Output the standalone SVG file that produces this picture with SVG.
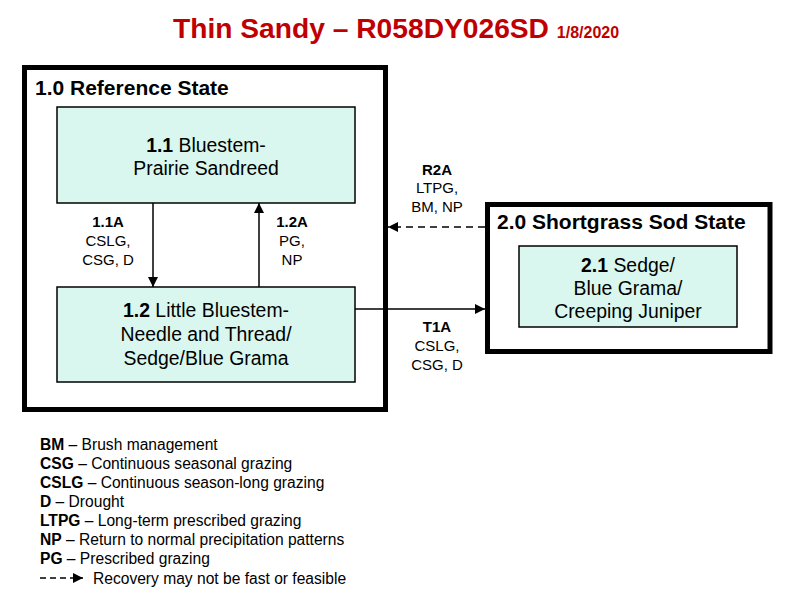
<svg xmlns="http://www.w3.org/2000/svg" width="800" height="605" viewBox="0 0 800 605">
<defs>
<style>
text{font-family:"Liberation Sans",Arial,sans-serif;fill:#000}
.title{font-size:28.2px;font-weight:bold;fill:#c00000}
.date{font-size:16px;font-weight:bold;fill:#c00000}
.state{fill:#fff;stroke:#000;stroke-width:5}
.stitle{font-size:21px;font-weight:bold}
.comm{fill:#d9f7ef;stroke:#000;stroke-width:1.5}
.ct{font-size:19.4px;text-anchor:middle}
.lab{font-size:15px;text-anchor:middle}
.leg{font-size:15.6px}
.b{font-weight:bold}
.line{stroke:#000;stroke-width:1.5;fill:none}
.dash{stroke-dasharray:7,5}
.ldash{stroke-dasharray:6,4}
</style>
<marker id="ah" viewBox="0 0 10 10" refX="10" refY="5" markerWidth="10" markerHeight="10" markerUnits="userSpaceOnUse" orient="auto"><path d="M0,0 L10,5 L0,10 z" fill="#000"/></marker>
</defs>
<text x="173" y="38" class="title">Thin Sandy – R058DY026SD <tspan class="date">1/8/2020</tspan></text>

<g id="state1">
<rect x="24.5" y="67.5" width="361" height="342" class="state"/>
<text x="35" y="95" class="stitle">1.0 Reference State</text>
</g>
<g id="state2">
<rect x="487.5" y="204.5" width="282.5" height="147" class="state"/>
<text x="497" y="229" class="stitle">2.0 Shortgrass Sod State</text>
</g>
<g id="c11">
<rect x="57" y="107" width="298" height="96" class="comm"/>
<text x="206" y="152" class="ct"><tspan class="b">1.1</tspan> Bluestem-</text>
<text x="206" y="175" class="ct">Prairie Sandreed</text>
</g>
<g id="c12">
<rect x="57" y="287" width="298" height="95" class="comm"/>
<text x="206" y="317" class="ct"><tspan class="b">1.2</tspan> Little Bluestem-</text>
<text x="206" y="341" class="ct">Needle and Thread/</text>
<text x="206" y="365" class="ct">Sedge/Blue Grama</text>
</g>
<g id="c21">
<rect x="519" y="246" width="218" height="81" class="comm"/>
<text x="628" y="272" class="ct"><tspan class="b">2.1</tspan> Sedge/</text>
<text x="628" y="295" class="ct">Blue Grama/</text>
<text x="628" y="318" class="ct">Creeping Juniper</text>
</g>
<g id="connectors">
<line x1="153" y1="203" x2="153" y2="287" class="line" marker-end="url(#ah)"/>
<line x1="259" y1="287" x2="259" y2="203" class="line" marker-end="url(#ah)"/>
<line x1="355" y1="309" x2="485" y2="309" class="line" marker-end="url(#ah)"/>
<line x1="485" y1="227" x2="388" y2="227" class="line dash" marker-end="url(#ah)"/>
<text x="108" y="227" class="lab b">1.1A</text>
<text x="108" y="246" class="lab">CSLG,</text>
<text x="108" y="265" class="lab">CSG, D</text>
<text x="292" y="227" class="lab b">1.2A</text>
<text x="292" y="246" class="lab">PG,</text>
<text x="292" y="265" class="lab">NP</text>
<text x="437" y="175" class="lab b">R2A</text>
<text x="437" y="193" class="lab">LTPG,</text>
<text x="437" y="212" class="lab">BM, NP</text>
<text x="437" y="332" class="lab b">T1A</text>
<text x="437" y="351" class="lab">CSLG,</text>
<text x="437" y="370" class="lab">CSG, D</text>
</g>
<g id="legend">
<text x="40" y="450" class="leg"><tspan class="b">BM</tspan> – Brush management</text>
<text x="40" y="469" class="leg"><tspan class="b">CSG</tspan> – Continuous seasonal grazing</text>
<text x="40" y="488" class="leg"><tspan class="b">CSLG</tspan> – Continuous season-long grazing</text>
<text x="40" y="507" class="leg"><tspan class="b">D</tspan> – Drought</text>
<text x="40" y="526" class="leg"><tspan class="b">LTPG</tspan> – Long-term prescribed grazing</text>
<text x="40" y="545" class="leg"><tspan class="b">NP</tspan> – Return to normal precipitation patterns</text>
<text x="40" y="564" class="leg"><tspan class="b">PG</tspan> – Prescribed grazing</text>
<line x1="40" y1="578" x2="83" y2="578" class="line ldash" marker-end="url(#ah)"/>
<text x="93" y="584" class="leg">Recovery may not be fast or feasible</text>
</g>
</svg>
